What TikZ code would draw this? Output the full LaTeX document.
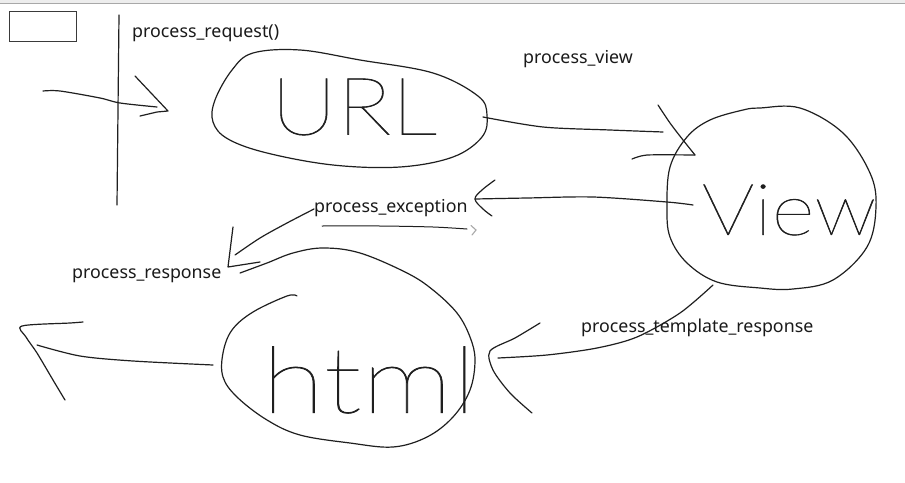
\documentclass[tikz,border=0pt]{standalone}
\usepackage{fontspec}
\setmainfont{Noto Sans}
\def\tryhand#1#2{\IfFontExistsTF{#1}{\newfontfamily\handfont{#1}[FakeBold=0.7]}{#2}}
\tryhand{Lato Thin}{%
 \tryhand{Poppins Thin}{%
  \tryhand{Fira Sans Thin}{%
   \tryhand{Lato Hairline}{%
    \tryhand{Poppins ExtraLight}{%
     \tryhand{Fira Sans ExtraLight}{%
      \tryhand{DejaVu Sans ExtraLight}{%
       \tryhand{Open Sans Light}{%
        \tryhand{Noto Sans Light}{%
         \tryhand{Lato Light}{%
          \tryhand{Poppins Light}{%
           \newfontfamily\handfont{Noto Sans}}}}}}}}}}}}
\definecolor{inkc}{HTML}{1F1F1F}
\definecolor{lblc}{HTML}{1A1A1A}
\definecolor{boxc}{HTML}{3A3A3A}
\definecolor{topc}{HTML}{EDEDED}
\definecolor{curc}{HTML}{A8A8A8}
\tikzset{
  ink/.style={draw=inkc, line width=1.2pt, line cap=round, line join=round},
  lbl/.style={font=\fontsize{17.8}{20}\selectfont, text=lblc, inner sep=0pt, anchor=base west},
  hand/.style={text=inkc, inner sep=0pt},
}
\begin{document}
\begin{tikzpicture}[x=1pt,y=-1pt]
\useasboundingbox (0,0) rectangle (905,482);
\fill[white] (0,0) rectangle (905,482);
\fill[topc] (0,0) rectangle (905,3);
\draw[curc, line width=0.8pt] (0,3.4) -- (905,3.4);

% small box
\node[draw=boxc, line width=1.3pt, minimum width=67pt, minimum height=30pt, inner sep=0pt, anchor=north west] (box) at (9,11) {};

% vertical divider
\coordinate (vtop) at (119,15);
\coordinate (vbot) at (117,205);
\draw[ink] (vtop) -- (vbot);

% labels
\node[lbl] (preq) at (132,37) {process\_request()};
\node[lbl] (pview) at (523,63) {process\_view};
\node[lbl] (pexc) at (314,212) {process\_exception};
\node[lbl] (presp) at (72,278) {process\_response};
\node[lbl] (ptpl) at (581,332) {process\_template\_response};

% handwritten words
\node[hand, font=\handfont\addfontfeatures{FakeStretch=1.15}\fontsize{80}{80}\selectfont] (url) at (354,107) {URL};
\node[hand, font=\handfont\addfontfeatures{FakeStretch=1.15}\fontsize{72}{72}\selectfont] (view) at (789,210) {View};
\node[hand, font=\handfont\addfontfeatures{FakeStretch=1.25}\fontsize{92}{92}\selectfont] (html) at (369,380) {html};

% URL blob
\draw[ink] plot[smooth cycle, tension=0.6] coordinates {(253,53) (300,50) (360,60) (433,73) (478,96) (487,115) (482,137) (453,157) (400,167) (333,165) (267,153) (228,139) (213,122) (215,100) (232,70)};

% View blob
\draw[ink] plot[smooth cycle, tension=0.6] coordinates {(760,108) (800,108) (843,133) (870,173) (876,207) (867,247) (833,280) (793,289) (760,288) (717,282) (687,263) (670,237) (667,207) (670,167) (687,137) (710,120) (743,110)};

% html blob + process_response curve (one open stroke)
\coordinate (hblobS) at (297,296);
\coordinate (hblobE) at (240,273);
\draw[ink] plot[smooth, tension=0.6] coordinates {(hblobS) (287,296) (253,312) (232,330) (223,353) (223,377) (237,397) (267,420) (300,435) (350,443) (393,447) (427,437) (453,417) (470,390) (475,360) (470,337) (457,313) (433,290) (407,273) (360,253) (323,248) (293,253) (267,263) (hblobE)};

% incoming request arrow
\coordinate (inS) at (43,91);
\coordinate (inT) at (168,111);
\draw[ink] plot[smooth, tension=0.5] coordinates {(inS) (60,91) (100,98) (120,103) (157,107)};
\draw[ink] (135,76) -- (inT) -- (157,112) -- (140,116);

% URL -> View (process_view)
\coordinate (urlR) at (483,117);
\coordinate (viewT) at (695,155);
\draw[ink] plot[smooth, tension=0.5] coordinates {(urlR) (543,127) (610,130) (663,132)};
\draw[ink] plot[smooth, tension=0.5] coordinates {(658,105) (670,123) (683,140) (viewT)};
\draw[ink] plot[smooth, tension=0.4] coordinates {(viewT) (647,155) (632,159)};

% View -> process_exception
\coordinate (viewL) at (693,205);
\coordinate (excT) at (475,199);
\draw[ink] plot[smooth, tension=0.5] coordinates {(viewL) (667,202) (593,197) (527,198) (excT)};
\draw[ink] plot[smooth, tension=0.6] coordinates {(495,180) (482,190) (excT) (483,209) (492,216)};

% process_exception underline and cursor mark
\coordinate (ulS) at (322,226);
\coordinate (ulE) at (467,229);
\draw[ink, line width=1pt] plot[smooth, tension=0.5] coordinates {(ulS) (380,226) (433,227) (ulE)};
\draw[curc, line width=1.1pt, line cap=round] (471,225.5) -- (476,230) -- (472,235);

% process_exception -> process_response
\coordinate (excL) at (314,209);
\coordinate (respT) at (228,267);
\draw[ink] plot[smooth, tension=0.5] coordinates {(excL) (287,223) (260,238) (235,255)};
\draw[ink] (233,227) -- (respT) -- (260,262);

% View -> html (process_template_response)
\coordinate (viewB) at (713,285);
\coordinate (tplT) at (490,351);
\draw[ink] plot[smooth, tension=0.5] coordinates {(viewB) (680,313) (637,337) (597,348) (547,355) (498,358)};
\draw[ink] plot[smooth, tension=0.5] coordinates {(540,323) (515,338) (tplT) (493,370) (510,393) (532,413)};

% html -> out
\coordinate (htmlL) at (213,365);
\coordinate (outT) at (22,326);
\draw[ink] plot[smooth, tension=0.5] coordinates {(htmlL) (133,361) (80,356) (37,345)};
\draw[ink] plot[smooth, tension=0.5] coordinates {(83,322) (70,323) (outT) (26,337) (37,353) (53,380) (65,400)};
\end{tikzpicture}
\end{document}
